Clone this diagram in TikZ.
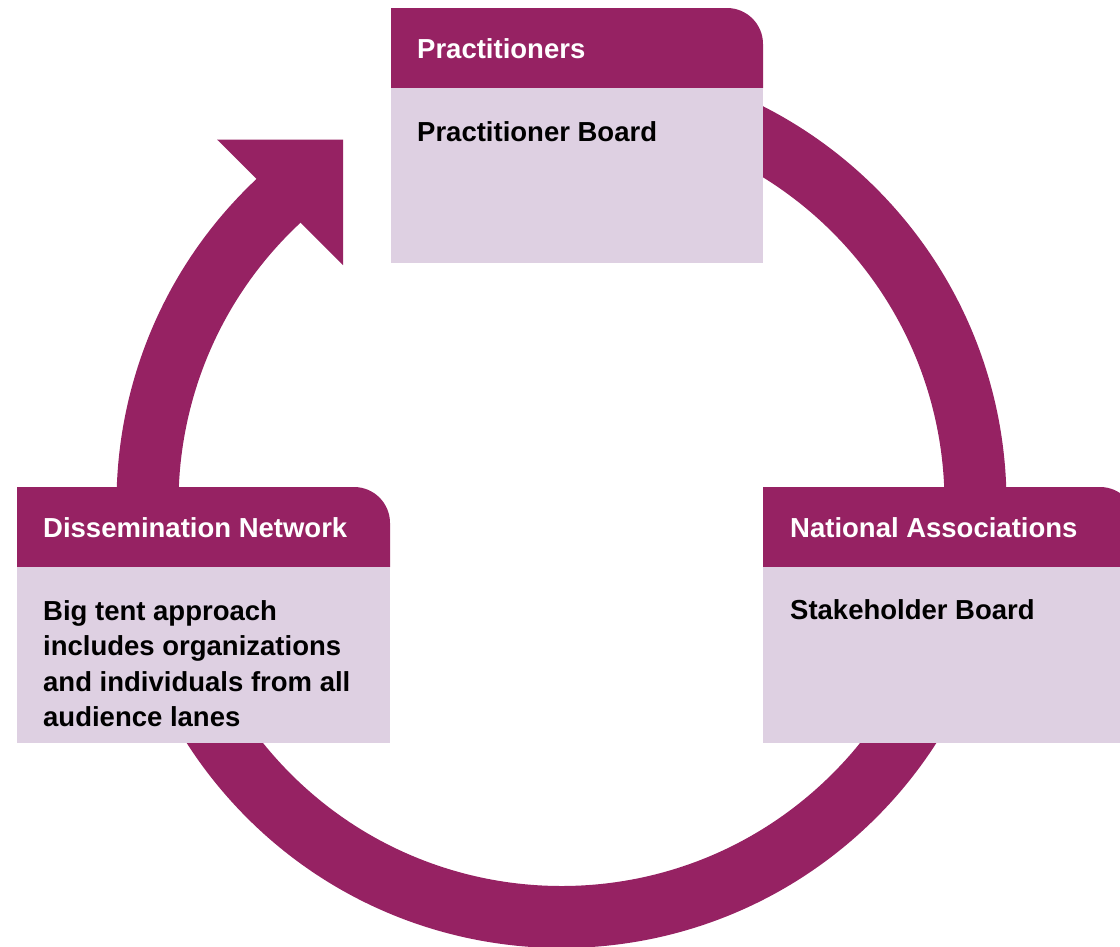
\documentclass[tikz,border=0pt]{standalone}
\usepackage{fontspec}
\setmainfont{Liberation Sans}
\definecolor{ringcol}{HTML}{962263}
\definecolor{bodycol}{HTML}{DED0E2}
\begin{document}
\begin{tikzpicture}[x=1pt,y=-1pt,
  headfill/.style={fill=ringcol},
  bodyfill/.style={fill=bodycol},
  headtext/.style={anchor=base west,inner sep=0pt,text=white,font=\bfseries\fontsize{27.5}{35.5}\selectfont},
  bodytext/.style={anchor=base west,inner sep=0pt,text=black,font=\bfseries\fontsize{27.5}{35.5}\selectfont}]
\useasboundingbox (0,0) rectangle (1120,946);
\clip (0,0) rectangle (1120,946);
% ring
\coordinate (c) at (561.5,503);
\draw[ringcol,line width=62pt] ([shift={(-132:414)}]c) arc[start angle=-132,end angle=-450,radius=414];
% arrowhead
\fill[ringcol] (217,139.5) -- (343,139.5) -- (343,265) -- cycle;
% top box
\fill[headfill] (391,88) -- (391,8) -- (727,8) arc[start angle=-90,end angle=0,radius=36] -- (763,88) -- cycle;
\fill[bodyfill] (391,88) rectangle (763,263);
\node[headtext] (h1) at (417,58) {Practitioners};
\node[bodytext] (b1) at (417,141) {Practitioner Board};
% left box
\fill[headfill] (17,567) -- (17,487) -- (354,487) arc[start angle=-90,end angle=0,radius=36] -- (390,567) -- cycle;
\fill[bodyfill] (17,567) rectangle (390,743);
\node[headtext] (h2) at (43,537) {Dissemination Network};
\node[bodytext] (b2a) at (43,620) {Big tent approach};
\node[bodytext] (b2b) at (43,655.5) {includes organizations};
\node[bodytext] (b2c) at (43,691) {and individuals from all};
\node[bodytext] (b2d) at (43,726.5) {audience lanes};
% right box
\fill[headfill] (763,567) -- (763,487) -- (1100,487) arc[start angle=-90,end angle=0,radius=36] -- (1136,567) -- cycle;
\fill[bodyfill] (763,567) rectangle (1136,743);
\node[headtext] (h3) at (790,537) {National Associations};
\node[bodytext] (b3) at (790,619) {Stakeholder Board};
\end{tikzpicture}
\end{document}
